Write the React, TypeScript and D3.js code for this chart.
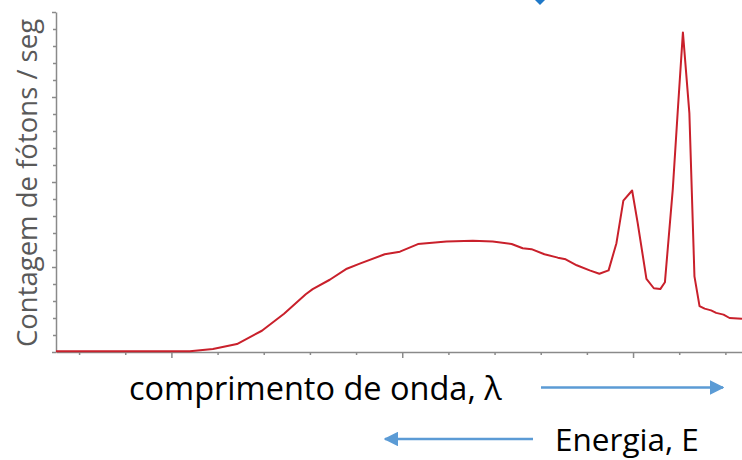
import React, { useRef, useEffect } from 'react';
import * as d3 from 'd3';

// wavelength (arbitrary units, major tick every 5) and photon count (arbitrary units)
const wavelength = [
  2.5, 4.97, 5.4, 5.9, 6.42, 6.96, 7.44, 7.91, 8.06, 8.43, 8.8, 9.08, 9.62, 9.95,
  10.34, 10.96, 11.53, 11.96, 12.37, 12.61, 12.8, 13.08, 13.37, 13.54, 13.78, 14.06,
  14.27, 14.47, 14.64, 14.79, 14.98, 15.1, 15.29, 15.45, 15.59, 15.69, 15.86, 15.97,
  16.08, 16.22, 16.33, 16.44, 16.55, 16.69, 16.8, 16.96, 17.09, 17.36,
];
const counts = [
  0.01, 0.01, 0.01, 0.035, 0.094, 0.25, 0.45, 0.68, 0.74, 0.85, 0.98, 1.04, 1.15, 1.18,
  1.27, 1.3, 1.31, 1.3, 1.27, 1.22, 1.21, 1.15, 1.11, 1.09, 1.02, 0.96,
  0.92, 0.96, 1.28, 1.78, 1.9, 1.52, 0.86, 0.75, 0.74, 0.82, 1.91, 2.85,
  3.76, 2.81, 0.89, 0.54, 0.51, 0.49, 0.46, 0.44, 0.4, 0.39,
];
const xTicks = d3.range(3, 17.01, 1);
const yTicks = d3.range(0, 4.001, 0.2);

const yLabel = 'Contagem de fótons / seg';
const xLabel = 'comprimento de onda, λ';
const energyLabel = 'Energia, E';

const Chart = () => {
  const ref = useRef<SVGSVGElement>(null);

  useEffect(() => {
    const svg = d3.select(ref.current);
    svg.selectAll('*').remove();
    const left = 56, right = 742, top = 12, bottom = 352;
    const axisColor = '#8a8a8a';

    const x = d3.scaleLinear().domain([2.5, 17.36]).range([left, right]);
    const y = d3.scaleLinear().domain([0, 4]).range([bottom, top]);

    const defs = svg.append('defs');
    defs.append('marker')
      .attr('id', 'arrow')
      .attr('viewBox', '0 0 10 10')
      .attr('refX', 9).attr('refY', 5)
      .attr('markerWidth', 5.5).attr('markerHeight', 5.5)
      .attr('orient', 'auto')
      .append('path').attr('d', 'M0,0 L10,5 L0,10 Z').attr('fill', '#5b9bd5');

    // x axis
    const gx = svg.append('g')
      .attr('transform', `translate(0,${bottom})`)
      .call(d3.axisBottom(x).tickValues(xTicks).tickSize(3).tickSizeOuter(0).tickFormat(() => ''));
    gx.selectAll('.tick line')
      .attr('y2', (d: any) => (d % 5 === 0 ? 6 : 3));

    // y axis
    const gy = svg.append('g')
      .attr('transform', `translate(${left},0)`)
      .call(d3.axisLeft(y).tickValues(yTicks).tickSize(3).tickSizeOuter(0).tickFormat(() => ''));
    gy.selectAll('.tick line')
      .attr('x2', (d: any) => (Math.abs(d - Math.round(d)) < 1e-6 ? -4 : -3));

    svg.selectAll('.domain, .tick line')
      .attr('stroke', axisColor)
      .attr('stroke-width', 1.5);

    const pts: [number, number][] = wavelength.map((w, i) => [w, counts[i]]);
    const line = d3.line<[number, number]>()
      .x(d => x(d[0]))
      .y(d => y(d[1]));

    svg.append('path')
      .datum(pts)
      .attr('d', line)
      .attr('fill', 'none')
      .attr('stroke', '#c9202b')
      .attr('stroke-width', 2)
      .attr('stroke-linejoin', 'round');

    const font = '"Open Sans", sans-serif';

    svg.append('text')
      .attr('transform', `translate(37,${(top + bottom) / 2 + 1}) rotate(-90)`)
      .attr('text-anchor', 'middle')
      .attr('font-family', font)
      .attr('font-size', 27.5)
      .attr('fill', '#595959')
      .text(yLabel);

    svg.append('text')
      .attr('x', 129).attr('y', 400)
      .attr('font-family', font)
      .attr('font-size', 32.5)
      .attr('fill', '#000')
      .text(xLabel);

    svg.append('text')
      .attr('x', 555).attr('y', 451)
      .attr('font-family', font)
      .attr('font-size', 31.5)
      .attr('fill', '#000')
      .text(energyLabel);

    svg.append('line')
      .attr('x1', 541).attr('y1', 387.5).attr('x2', 723).attr('y2', 387.5)
      .attr('stroke', '#5b9bd5').attr('stroke-width', 2.7)
      .attr('marker-end', 'url(#arrow)');

    svg.append('line')
      .attr('x1', 533).attr('y1', 439).attr('x2', 385).attr('y2', 439)
      .attr('stroke', '#5b9bd5').attr('stroke-width', 2.7)
      .attr('marker-end', 'url(#arrow)');

    // tip of an arrow cut off at the top edge
    svg.append('path')
      .attr('d', 'M535,0 L545,0 L540,5 Z')
      .attr('fill', '#1f78c8');
  }, []);

  return (
    <svg ref={ref} width={742} height={460}
      style={{ position: 'absolute', left: 0, top: 0, background: '#fff' }} />
  );
};

export default function App() {
  return <Chart />;
}
